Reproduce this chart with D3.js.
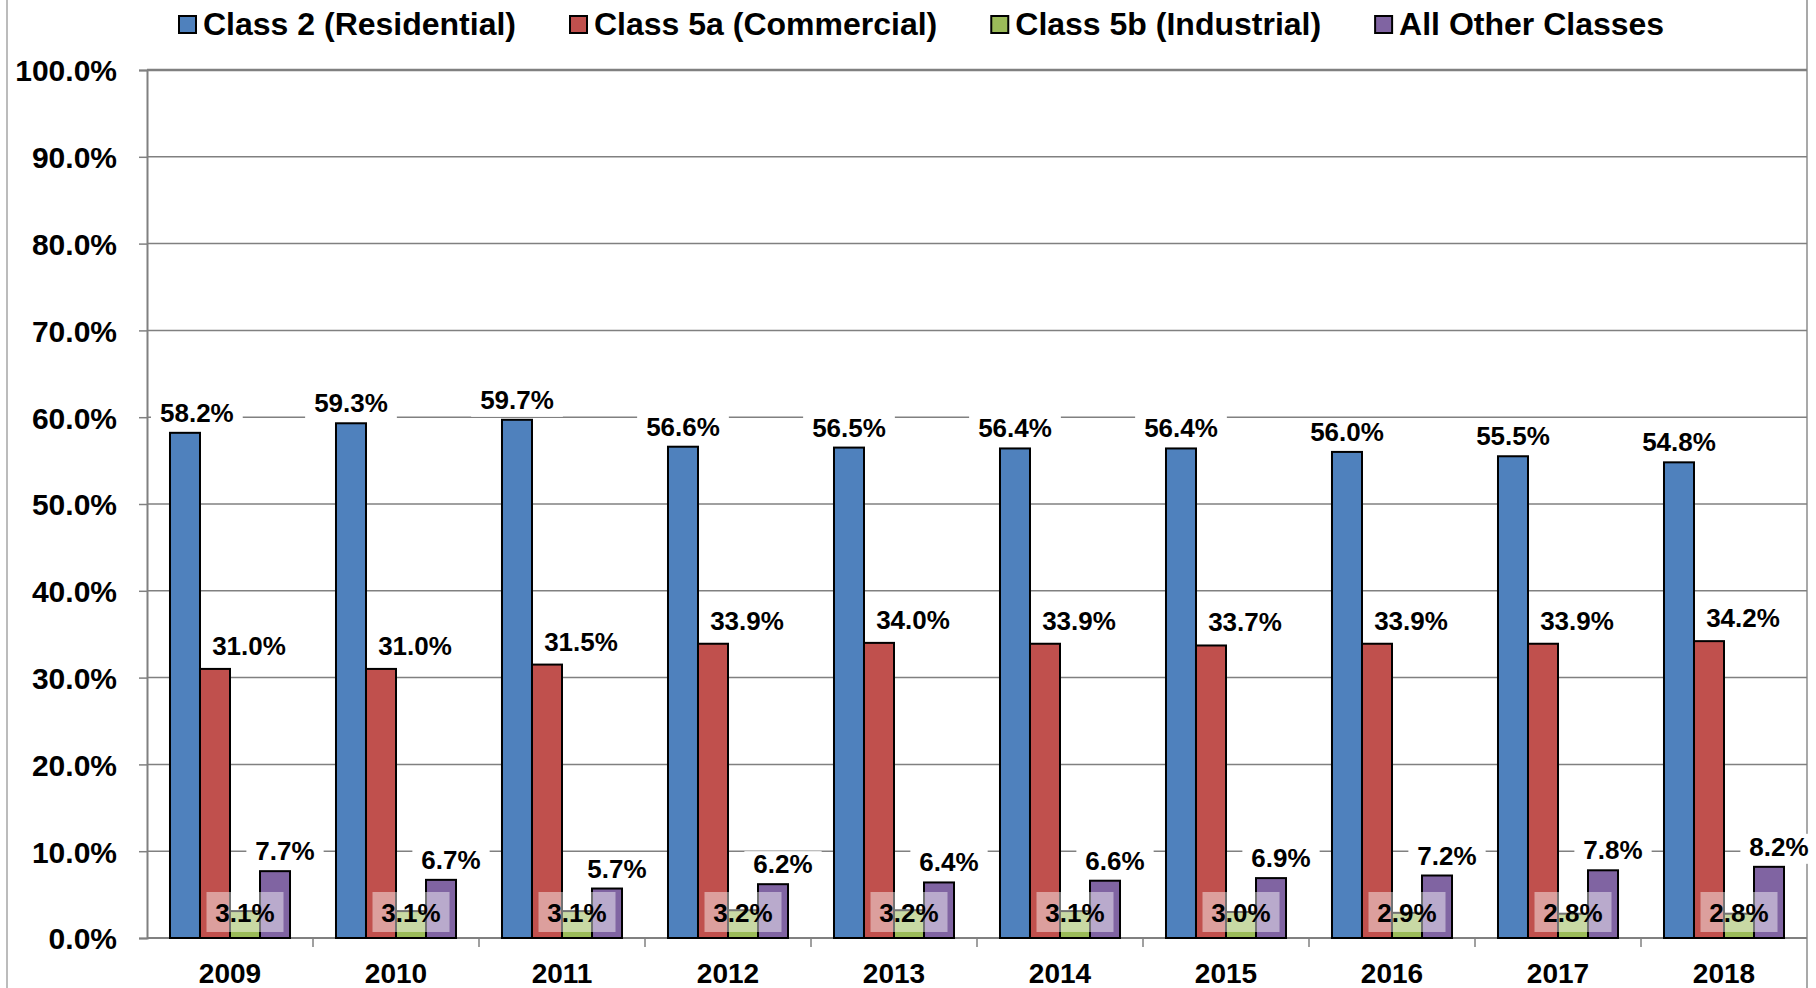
<!DOCTYPE html>
<html>
    <head>
        <meta charset="UTF-8">
        <script src="https://cdn.jsdelivr.net/npm/d3@7"></script>
        <title>Share by Class</title>
        <style>
            body { margin: 0; background: white; }
            svg text { font-family: "Liberation Sans", Arial, sans-serif; font-weight: bold; fill: black; }
        </style>
    </head>
    <body>
        <div id="ChartContainer"></div>
    </body>
    <script>
        // data
        const years = ["2009", "2010", "2011", "2012", "2013", "2014", "2015", "2016", "2017", "2018"]
        const series = ["Class 2 (Residential)", "Class 5a (Commercial)", "Class 5b (Industrial)", "All Other Classes"]
        const residential = [58.2, 59.3, 59.7, 56.6, 56.5, 56.4, 56.4, 56.0, 55.5, 54.8]
        const commercial = [31.0, 31.0, 31.5, 33.9, 34.0, 33.9, 33.7, 33.9, 33.9, 34.2]
        const industrial = [3.1, 3.1, 3.1, 3.2, 3.2, 3.1, 3.0, 2.9, 2.8, 2.8]
        const other = [7.7, 6.7, 5.7, 6.2, 6.4, 6.6, 6.9, 7.2, 7.8, 8.2]
        const yTicks = [0, 10, 20, 30, 40, 50, 60, 70, 80, 90, 100]

        const values = [residential, commercial, industrial, other]
        const colors = ["#4F81BD", "#C0504D", "#9BBB59", "#8064A2"]
        // label shift to the right / gap above the bar, per series (Excel placed them by hand)
        const labelDx = [0, 34, 0, 10]
        const labelGap = [11, 14, 0, 11]

        const width = 1816
        const height = 988
        const margin = { top: 70, right: 9, bottom: 50, left: 147 }

        const svg = d3.select("#ChartContainer")
            .append("svg")
            .attr("width", width)
            .attr("height", height)

        const x0 = d3.scaleBand()
            .domain(years)
            .range([margin.left, width - margin.right])
            .paddingInner(0.277)
            .paddingOuter(0.1385)

        const x1 = d3.scaleBand()
            .domain(d3.range(series.length))
            .range([0, x0.bandwidth()])

        const y = d3.scaleLinear()
            .domain([0, 100])
            .range([height - margin.bottom, margin.top])

        const step = x0.step()

        // outer chart border (left and right edges visible)
        svg.append("line")
            .attr("x1", 7).attr("x2", 7)
            .attr("y1", 0).attr("y2", height)
            .attr("stroke", "#a6a6a6")
            .attr("stroke-width", 1.5)
        svg.append("line")
            .attr("x1", width - margin.right).attr("x2", width - margin.right)
            .attr("y1", 0).attr("y2", height)
            .attr("stroke", "#8c8c8c")
            .attr("stroke-width", 1.5)

        // gridlines
        svg.append("g")
            .selectAll("line")
            .data(yTicks.filter(t => t > 0))
            .enter()
            .append("line")
            .attr("x1", margin.left)
            .attr("x2", width - margin.right)
            .attr("y1", d => y(d))
            .attr("y2", d => y(d))
            .attr("stroke", "#808080")
            .attr("stroke-width", d => d === 100 ? 2.5 : 1.5)

        // x axis, ticks sit between categories
        const xg = svg.append("g")
            .attr("transform", `translate(0,${y(0)})`)
        xg.append("line")
            .attr("x1", margin.left).attr("x2", width - margin.right)
            .attr("stroke", "#808080").attr("stroke-width", 2)
        xg.selectAll(".sep")
            .data(years.slice(1))
            .enter()
            .append("line")
            .attr("class", "sep")
            .attr("x1", d => x0(d) - x0.paddingOuter() * step)
            .attr("x2", d => x0(d) - x0.paddingOuter() * step)
            .attr("y1", 0).attr("y2", 9)
            .attr("stroke", "#808080").attr("stroke-width", 1.5)
        xg.selectAll(".year")
            .data(years)
            .enter()
            .append("text")
            .attr("class", "year")
            .attr("x", d => x0(d) + x0.bandwidth() / 2)
            .attr("y", 45)
            .attr("text-anchor", "middle")
            .style("font-size", "28px")
            .text(d => d)

        // bars
        const bars = []
        values.forEach((vals, s) => {
            vals.forEach((v, i) => bars.push({ s: s, year: years[i], value: v }))
        })

        svg.append("g")
            .selectAll("rect")
            .data(bars)
            .enter()
            .append("rect")
            .attr("x", d => x0(d.year) + x1(d.s))
            .attr("y", d => y(d.value))
            .attr("width", x1.bandwidth())
            .attr("height", d => y(0) - y(d.value))
            .attr("fill", d => colors[d.s])
            .attr("stroke", "black")
            .attr("stroke-width", 2)

        // value labels with white backing boxes
        const labels = svg.append("g")
        bars.forEach(d => {
            let cx = x0(d.year) + x1(d.s) + x1.bandwidth() / 2 + labelDx[d.s]
            const baseY = d.s === 2 ? y(0) - 16 : y(d.value) - labelGap[d.s]
            const g = labels.append("g")
            const box = g.append("rect")
            const t = g.append("text")
                .attr("x", cx)
                .attr("y", baseY)
                .attr("text-anchor", "middle")
                .style("font-size", "26px")
                .text(d.value.toFixed(1) + "%")
            let bb = t.node().getBBox()
            // keep the label clear of the y axis
            if (bb.x - 9 < margin.left + 4) {
                cx += margin.left + 4 - (bb.x - 9)
                t.attr("x", cx)
                bb = t.node().getBBox()
            }
            if (d.s === 2) {
                box.attr("x", cx - 38.5).attr("y", baseY - 30).attr("width", 77).attr("height", 40)
                    .attr("fill", "white").attr("fill-opacity", 0.45)
            } else {
                box.attr("x", bb.x - 9).attr("y", bb.y + 2).attr("width", bb.width + 18).attr("height", bb.height)
                    .attr("fill", "white")
            }
        })

        // y axis drawn last so it stays on top
        const yAxis = svg.append("g")
            .attr("transform", `translate(${margin.left},0)`)
            .call(d3.axisLeft(y).tickValues(yTicks).tickSize(8).tickFormat(d => d.toFixed(1) + "%"))
        yAxis.select(".domain").attr("stroke", "#808080").attr("stroke-width", 2)
        yAxis.selectAll(".tick line").attr("stroke", "#808080").attr("stroke-width", 1.5)
        yAxis.selectAll(".tick text")
            .attr("x", -30)
            .attr("dy", "0.36em")
            .style("font-size", "30px")

        // legend
        const legend = svg.append("g")
        let lx = 179
        series.forEach((name, i) => {
            legend.append("rect")
                .attr("x", lx).attr("y", 16)
                .attr("width", 17).attr("height", 17)
                .attr("fill", colors[i])
                .attr("stroke", "black")
                .attr("stroke-width", 2)
            const t = legend.append("text")
                .attr("x", lx + 24)
                .attr("y", 35)
                .style("font-size", "32px")
                .text(name)
            lx += 24 + t.node().getComputedTextLength() + 54
        })
    </script>
</html>
